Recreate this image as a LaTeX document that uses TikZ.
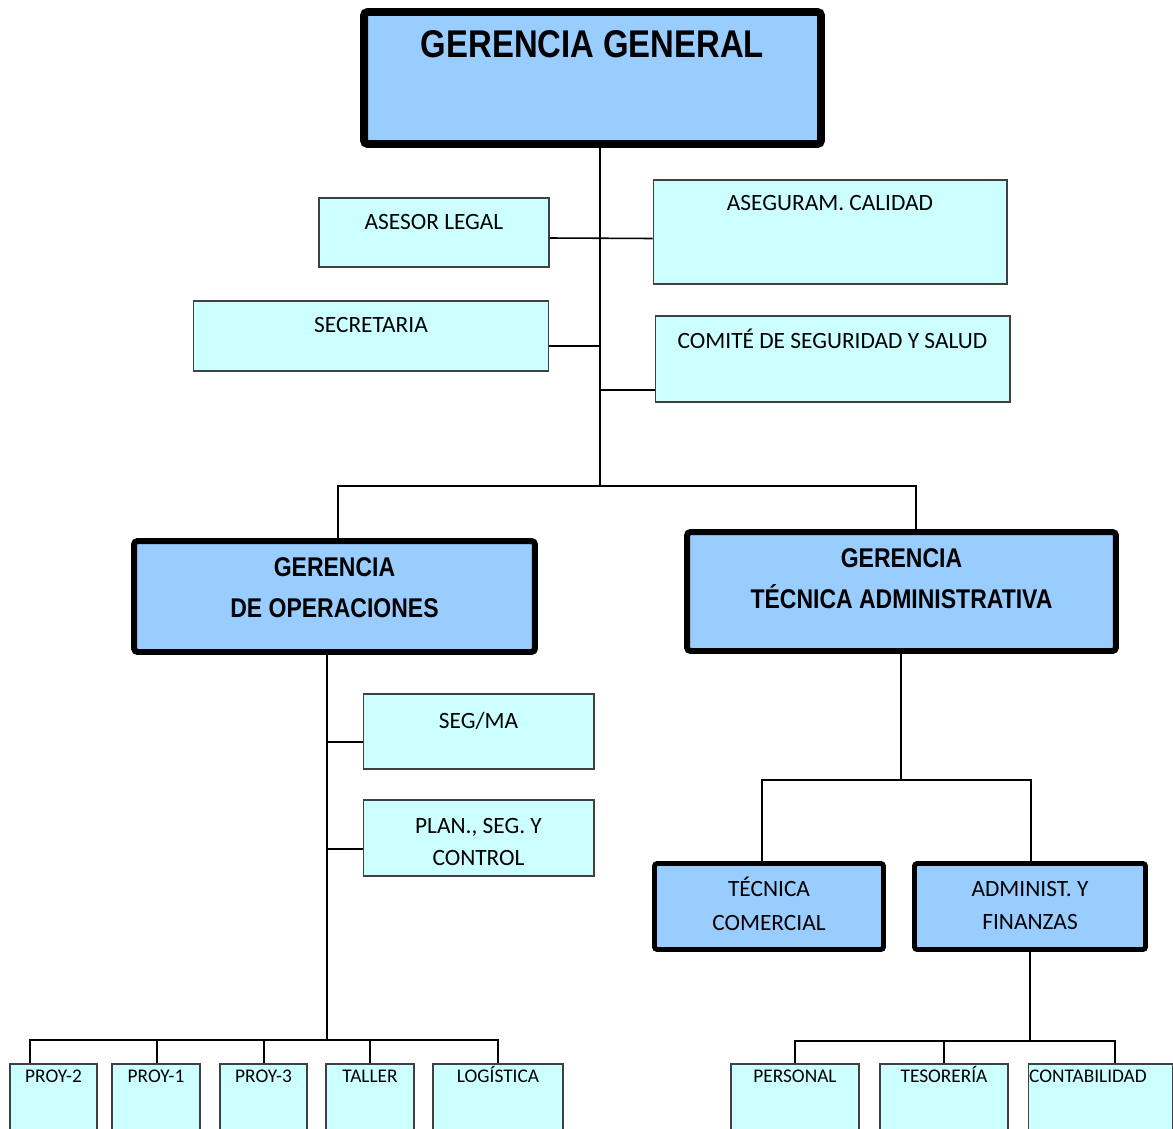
\documentclass[tikz,border=0pt]{standalone}
\usepackage{fontspec}
\setmainfont{Carlito}
\newfontfamily\headfont[FakeStretch=0.85]{Liberation Sans}
\usepackage{tikz}
\usetikzlibrary{calc}

\definecolor{gerblue}{HTML}{99CCFF}
\definecolor{areacyan}{HTML}{CCFFFF}

\begin{document}
\begin{tikzpicture}[
    x=0.02cm, y=-0.02cm,
    gerbox/.style={draw=black, fill=gerblue, line width=4.5pt, rounded corners=2pt, inner sep=0pt},
    subbox/.style={draw=black, fill=gerblue, line width=3.4pt, rounded corners=2pt, inner sep=0pt},
    deptbox/.style={draw=black, fill=gerblue, line width=2.8pt, rounded corners=1.5pt, inner sep=0pt},
    areabox/.style={draw=black!75, fill=areacyan, line width=0.6pt, inner sep=0pt},
    unitbox/.style={areabox, minimum height=1.52cm},
    headtxt/.style={anchor=north, inner sep=0pt, align=center, font=\headfont\bfseries\fontsize{15.4}{23.3}\selectfont},
    areatxt/.style={anchor=north, inner sep=0pt, align=center, font=\fontsize{13.3}{19}\selectfont},
    unittxt/.style={anchor=base, inner sep=0pt, yshift=-19.5*0.2mm, font=\fontsize{11}{13}\selectfont},
    conn/.style={black, line width=0.9pt}
]
\useasboundingbox (0,0) rectangle (1173,1129);
\clip (0,0) rectangle (1173,1129);

% General management
\node[gerbox, minimum width=9.14cm, minimum height=2.64cm,
      label={[headtxt, yshift=-22*0.2mm, font=\headfont\bfseries\fontsize{22}{26}\selectfont]north:GERENCIA GENERAL}]
      (GG) at (592.5,78) {};

% Staff boxes
\node[areabox, minimum width=4.6cm, minimum height=1.38cm,
      label={[areatxt, yshift=-17*0.2mm]north:ASESOR LEGAL}] (AL) at (434,232.5) {};
\node[areabox, minimum width=7.08cm, minimum height=2.08cm,
      label={[areatxt, yshift=-16*0.2mm]north:ASEGURAM. CALIDAD}] (AC) at (830,232) {};
\node[areabox, minimum width=7.12cm, minimum height=1.4cm,
      label={[areatxt, yshift=-17*0.2mm]north:SECRETARIA}] (SEC) at (371,336) {};
\node[areabox, minimum width=7.1cm, minimum height=1.72cm,
      label={[areatxt, yshift=-13*0.2mm]north:COMITÉ DE SEGURIDAD Y SALUD}] (COM) at (832.5,359) {};

% Second level
\node[subbox, minimum width=8.02cm, minimum height=2.22cm,
      label={[headtxt, yshift=-19*0.2mm]north:GERENCIA\\DE OPERACIONES}] (GO) at (334.5,596.5) {};
\node[subbox, minimum width=8.58cm, minimum height=2.38cm,
      label={[headtxt, yshift=-19*0.2mm]north:GERENCIA\\TÉCNICA ADMINISTRATIVA}] (GTA) at (901.5,591.5) {};

% Operations staff
\node[areabox, minimum width=4.62cm, minimum height=1.5cm,
      label={[areatxt, yshift=-18*0.2mm]north:SEG/MA}] (SEG) at (478.5,731.5) {};
\node[areabox, minimum width=4.62cm, minimum height=1.52cm,
      label={[areatxt, yshift=-18*0.2mm, font=\fontsize{13.3}{18.7}\selectfont]north:PLAN., SEG. Y\\CONTROL}] (PLAN) at (478.5,838) {};

% Technical-administrative departments
\node[deptbox, minimum width=4.58cm, minimum height=1.72cm,
      label={[areatxt, yshift=-16*0.2mm]north:TÉCNICA\\COMERCIAL}] (TC) at (769,906.5) {};
\node[deptbox, minimum width=4.62cm, minimum height=1.72cm,
      label={[areatxt, yshift=-20*0.2mm]north:ADMINIST. Y\\FINANZAS}] (AF) at (1030,906.5) {};

% Bottom units
\foreach \n/\x/\w/\dx/\t in {P2/53.5/1.74/0/PROY-2, P1/156/1.76/0/PROY-1, P3/263.5/1.74/0/PROY-3,
        TAL/370/1.76/0/TALLER, LOG/498/2.6/0/LOGÍSTICA,
        PER/795/2.56/0/PERSONAL, TES/944/2.56/0/TESORERÍA, CON/1100.5/2.9/-12.5/CONTABILIDAD}
    \node[unitbox, minimum width=\w cm, label={[unittxt, xshift=\dx*0.2mm]north:\t}] (\n) at (\x,1102) {};

% Bus points
\coordinate (bus) at (600,486);
\coordinate (busO) at (327,1040);
\coordinate (busT) at (901,780);
\coordinate (busA) at (1030,1041);

% Connections: general management
\draw[conn] (bus |- GG.south) -- (bus);
\draw[conn] ($(GO.north)+(3.5,0)$) |- (bus);
\draw[conn] ($(GTA.north)+(14.5,0)$) |- (bus);
\draw[conn] ($(AL.east)+(0,5.5)$) -- ($(AC.west)+(0,6.5)$);
\draw[conn] ($(SEC.east)+(0,10)$) -| (bus);
\draw[conn] ($(COM.west)+(0,31)$) -| (bus);

% Connections: operations
\draw[conn] (busO |- GO.south) -- (busO);
\draw[conn] ($(SEG.west)+(0,10.5)$) -| (busO);
\draw[conn] ($(PLAN.west)+(0,11)$) -| (busO);
\foreach \b/\dx in {P2/-23.5, P1/1, P3/0.5, TAL/0, LOG/0}
    \draw[conn] ($(\b.north)+(\dx,0)$) |- (busO);

% Connections: technical-administrative
\draw[conn] (busT |- GTA.south) -- (busT);
\draw[conn] ($(TC.north)+(-7,0)$) |- (busT);
\draw[conn] ($(AF.north)+(1,0)$) |- (busT);
\draw[conn] (busA |- AF.south) -- (busA);
\foreach \b/\dx in {PER/0, TES/0, CON/14.5}
    \draw[conn] ($(\b.north)+(\dx,0)$) |- (busA);

\end{tikzpicture}
\end{document}
